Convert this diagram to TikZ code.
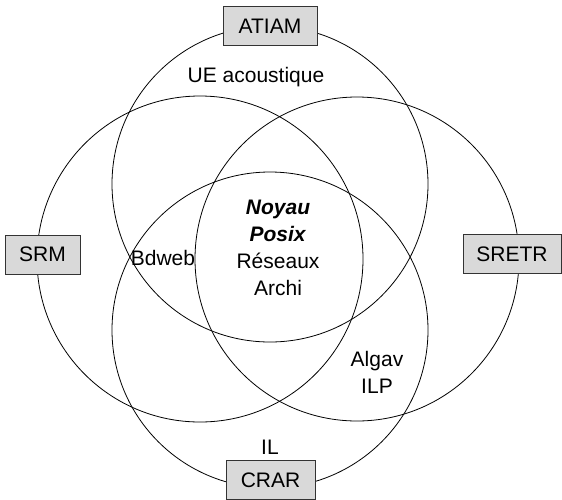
\documentclass[tikz,border=0pt]{standalone}
\usepackage{fontspec}
\setmainfont{Liberation Sans}

\begin{document}
\begin{tikzpicture}[x = 1pt, y = -1pt,
                   every node/.style = {font           = \fontsize{21}{27}\selectfont,
                                         align          = center,
                                         inner sep      = 0pt},
                   track box/.style  = {shape          = rectangle,
                                         draw           = black!80,
                                         fill           = black!15,
                                         line width     = 0.9pt,
                                         minimum height = 39pt},
                   track ring/.style = {line width     = 0.8pt}]
\useasboundingbox (0,0) rectangle (562,499);

% the rings : one per track
\coordinate (r-atiam) at (270,184);
\coordinate (r-srm)   at (200,259);
\coordinate (r-sretr) at (357,259);
\coordinate (r-crar)  at (270,330);
\draw[track ring] (r-atiam) circle[radius=158pt];
\draw[track ring] (r-srm)   circle[radius=163pt];
\draw[track ring] (r-sretr) circle[radius=162pt];
\draw[track ring] (r-crar)  circle[radius=158pt];

% the courses
\node(ue)    at (256,77)  {UE acoustique};
\node(core)  at (278,248) {\textbf{\textit{Noyau}}\\
                           \textbf{\textit{Posix}}\\
                           Réseaux\\
                           Archi};
\node(bdweb) at (163,258) {Bdweb};
\node(algav) at (377,372) {Algav\\
                           ILP};
\node(il)    at (270,447) {IL};

% the track boxes
\node[track box, minimum width=94pt](atiam) at (270,26)    {ATIAM};
\node[track box, minimum width=75pt](srm)   at (42.5,254.5) {SRM};
\node[track box, minimum width=98pt](sretr) at (512,254)   {SRETR};
\node[track box, minimum width=89pt](crar)  at (270.5,480) {CRAR};
\end{tikzpicture}
\end{document}
